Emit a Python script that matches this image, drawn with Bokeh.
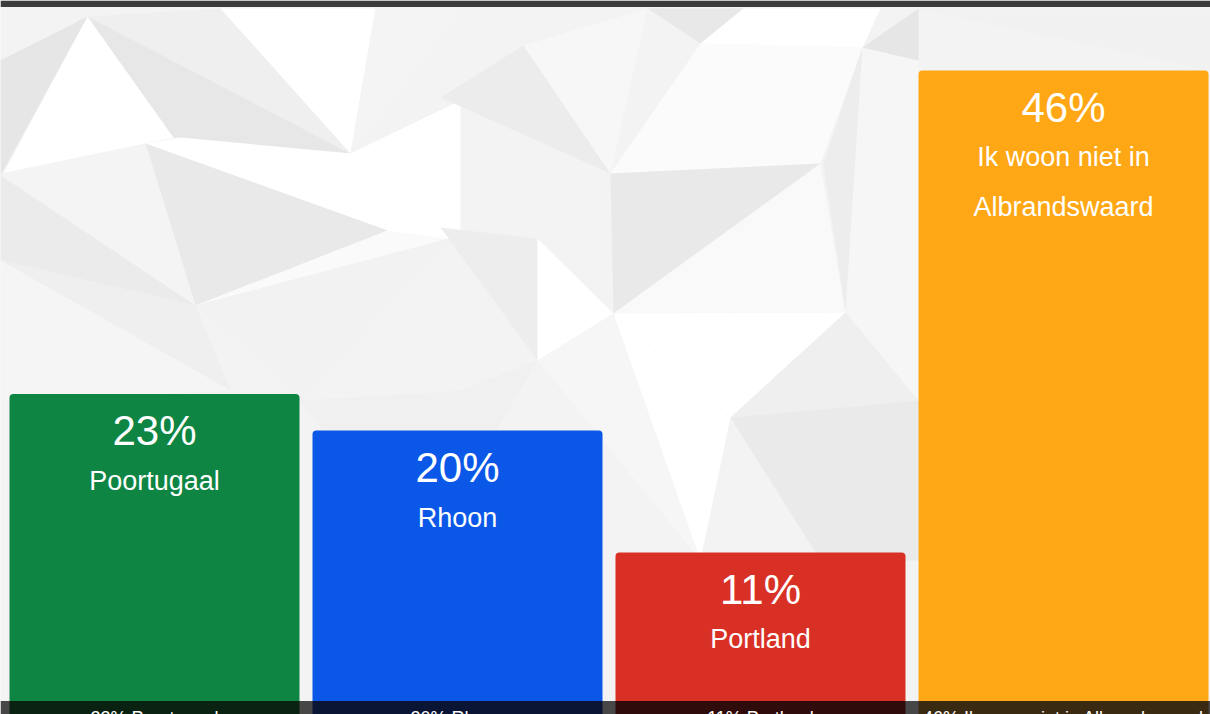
from bokeh.plotting import figure
from bokeh.models import ColumnDataSource, Range1d
from bokeh.core.properties import value
from bokeh.embed import file_html
from bokeh.resources import INLINE

# ---- data ----
categories = ["Poortugaal", "Rhoon", "Portland", "Ik woon niet in Albrandswaard"]
wrapped_labels = ["Poortugaal", "Rhoon", "Portland", "Ik woon niet in\nAlbrandswaard"]
shares = [22.6, 19.9, 10.9, 46.5]
pct_labels = ["23%", "20%", "11%", "46%"]
bar_colors = ["#0e8543", "#0b57e8", "#d93025", "#ffa714"]
strip_colors = ["#0a2212", "#0a1434", "#300b0b", "#3a2a12"]

# ---- decorative low-poly background (screen-pixel space) ----
background_facets = [
    ([0, 1210, 1210, 0], [0, 0, 714, 714], "#f3f3f3"),
    ([87, 3, 173], [16, 173, 137], "#ffffff"),
    ([0, 87, 0], [60, 16, 175], "#e6e6e6"),
    ([87, 220, 350], [16, 8, 153], "#efefef"),
    ([87, 350, 173], [16, 153, 137], "#e7e7e7"),
    ([220, 375, 350], [8, 8, 153], "#ffffff"),
    ([375, 460, 350], [8, 8, 153], "#f4f4f4"),
    ([145, 180, 350, 387], [143, 137, 153, 230], "#ffffff"),
    ([145, 195, 387], [143, 305, 230], "#e9e9e9"),
    ([0, 145, 195], [173, 143, 305], "#f4f4f4"),
    ([0, 0, 195], [175, 260, 305], "#ebebeb"),
    ([0, 195, 230], [260, 305, 390], "#efefef"),
    ([0, 0, 230], [260, 400, 390], "#f5f5f5"),
    ([195, 387, 460], [305, 230, 235], "#fafafa"),
    ([195, 460, 300], [305, 235, 400], "#f2f2f2"),
    ([350, 460, 460, 387], [153, 100, 240, 230], "#ffffff"),
    ([440, 523, 610], [97, 45, 173], "#ececec"),
    ([523, 647, 610], [45, 8, 173], "#f7f7f7"),
    ([647, 743, 700], [8, 8, 43], "#e8e8e8"),
    ([610, 700, 862, 820], [173, 43, 47, 163], "#fbfbfb"),
    ([610, 820, 613], [173, 163, 313], "#e9e9e9"),
    ([613, 820, 845], [313, 163, 312], "#f9f9f9"),
    ([613, 845, 730], [313, 312, 417], "#ffffff"),
    ([823, 862, 845], [163, 47, 312], "#ededed"),
    ([862, 918, 918, 845], [47, 60, 400, 312], "#f6f6f6"),
    ([730, 845, 918], [417, 312, 400], "#efefef"),
    ([862, 918, 918], [47, 8, 60], "#e6e6e6"),
    ([743, 880, 862, 700], [8, 8, 47, 43], "#ffffff"),
    ([440, 537, 537], [227, 238, 360], "#ededed"),
    ([537, 613, 537], [238, 313, 360], "#ffffff"),
    ([537, 613, 700], [360, 313, 560], "#f6f6f6"),
    ([613, 730, 700], [313, 417, 560], "#ffffff"),
    ([730, 918, 918, 820], [417, 400, 560, 560], "#eaeaea"),
    ([300, 460, 537, 420], [400, 390, 360, 560], "#f0f0f0"),
    ([918, 1060, 1210, 1210], [8, 8, 8, 70], "#f1f1f1"),
]
top_band_color = "#3c3c3c"

# ---- geometry ----
W, H = 1210, 714
px_per_unit_x = 303.0
first_center_px = 154.0
x_start = -first_center_px / px_per_unit_x
x_end = (W - first_center_px) / px_per_unit_x
bar_width = 290.0 / px_per_unit_x

px_per_pct = 13.54
baseline_px = 699.5  # from top of figure
y_end = baseline_px / px_per_pct
y_start = -(H - baseline_px) / px_per_pct

p = figure(width=W, height=H, output_backend="svg", toolbar_location=None,
           x_range=Range1d(x_start, x_end), y_range=Range1d(y_start, y_end),
           min_border=0, outline_line_color=None,
           x_axis_location=None, y_axis_location=None,
           background_fill_color="#f3f3f3", border_fill_color="#f3f3f3")
p.xgrid.visible = False
p.ygrid.visible = False
p.extra_x_ranges = {"px_x": Range1d(0, W)}
p.extra_y_ranges = {"px_y": Range1d(H, 0)}

bg = ColumnDataSource(dict(xs=[f[0] for f in background_facets],
                           ys=[f[1] for f in background_facets],
                           c=[f[2] for f in background_facets]))
p.patches("xs", "ys", source=bg, fill_color="c", line_color=None,
          x_range_name="px_x", y_range_name="px_y")
# dark top band
p.quad(left=0, right=W, top=0, bottom=6.5, fill_color=top_band_color, line_color=None,
       x_range_name="px_x", y_range_name="px_y")

idx = list(range(len(categories)))
src = ColumnDataSource(dict(x=idx, top=shares, color=bar_colors,
                            strip=strip_colors, pct=pct_labels,
                            cat=categories,
                            foot=[f"{l} {c}" for l, c in zip(pct_labels, categories)]))

# bars
p.vbar(x="x", top="top", bottom=y_start, width=bar_width, source=src,
       fill_color="color", line_color=None, border_radius=4)

# bottom strip
p.quad(left=x_start, right=x_end, top=-1.0 / px_per_pct, bottom=y_start - 1,
       fill_color="#474747", line_color=None)
p.vbar(x="x", top=-1.0 / px_per_pct, bottom=y_start - 1, width=bar_width,
       source=src, fill_color="strip", line_color=None)
p.text(x="x", y=0, text="foot", source=src, text_font=value("Liberation Sans"),
       text_font_size="18px", text_color="white", text_align="center",
       text_baseline="top", y_offset=8)

# percent labels
p.text(x="x", y="top", text="pct", source=src, text_font=value("Liberation Sans"),
       text_font_size="42px", text_color="white", text_align="center",
       text_baseline="middle", y_offset=37)

# category labels (one row per wrapped line)
lx, ly, lt, lo = [], [], [], []
for i, lab in enumerate(wrapped_labels):
    for j, line in enumerate(lab.split("\n")):
        lx.append(idx[i]); ly.append(shares[i]); lt.append(line); lo.append(87 + 50 * j)
lsrc = ColumnDataSource(dict(x=lx, y=ly, t=lt, o=lo))
p.text(x="x", y="y", text="t", source=lsrc, text_font=value("Liberation Sans"),
       text_font_size="27px", text_color="white", text_align="center",
       text_baseline="middle", y_offset="o")

open("out.html", "w").write(file_html(p, INLINE))
